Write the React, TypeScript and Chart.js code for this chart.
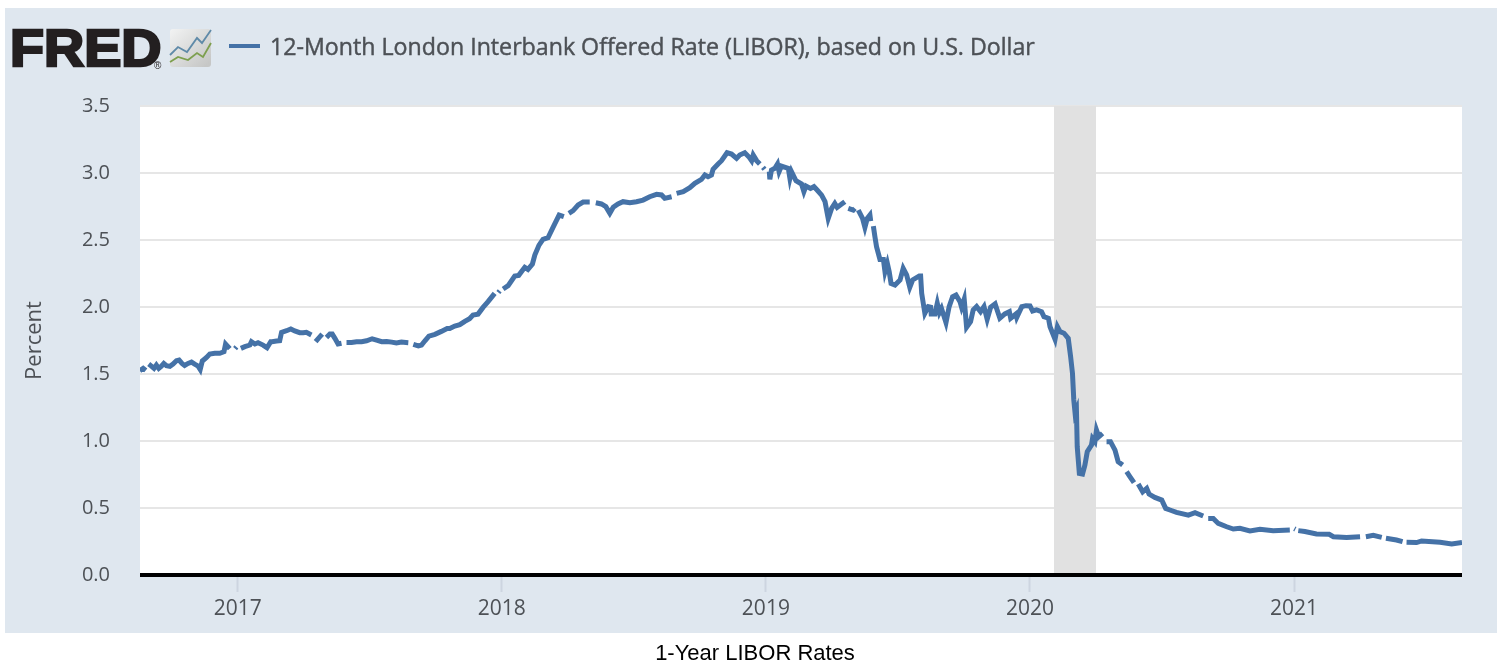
import React, { useEffect, useRef } from "react";
import { Chart, registerables } from "chart.js";

Chart.register(...registerables);

type Pt = [number, number | null];

const seriesLabel = "12-Month London Interbank Offered Rate (LIBOR), based on U.S. Dollar";
const yAxisTitle = "Percent";
const caption = "1-Year LIBOR Rates";
const yearTicks = [2017, 2018, 2019, 2020, 2021];
const xRange = [2016.63, 2021.636];
const yRange = [0, 3.5];
const recession = [2020.091, 2020.25];

const rates2016: Pt[] = [
  [2016.629,1.525],[2016.642,1.542],[2016.652,1.527],[2016.658,null],[2016.663,1.574],[2016.673,1.559],[2016.683,1.542],[2016.692,1.567],
  [2016.701,1.542],[2016.711,1.559],[2016.72,1.579],[2016.73,1.562],[2016.743,1.557],[2016.755,1.574],[2016.768,1.599],[2016.778,1.604],
  [2016.789,1.579],[2016.799,1.564],[2016.812,1.579],[2016.825,1.589],[2016.837,1.574],[2016.85,1.559],[2016.858,1.534],[2016.866,1.597],
  [2016.882,1.624],[2016.894,1.649],[2016.913,1.654],[2016.932,1.654],[2016.948,1.666],[2016.954,1.724],[2016.97,1.689],[2016.98,null],
  [2016.99,1.69],[2016.995,1.702],[2017.003,null],
];
const rates2017: Pt[] = [
  [2017.012,1.691],[2017.027,1.704],[2017.046,1.716],[2017.052,1.741],[2017.065,1.724],[2017.077,1.734],[2017.096,1.716],[2017.111,1.696],
  [2017.125,1.741],[2017.13,1.741],[2017.147,1.746],[2017.159,1.748],[2017.166,1.811],[2017.185,1.823],[2017.201,1.836],[2017.216,1.821],
  [2017.235,1.808],[2017.248,1.808],[2017.26,1.811],[2017.279,1.791],[2017.287,null],[2017.295,1.741],[2017.311,1.778],[2017.32,1.798],
  [2017.328,null],[2017.336,1.773],[2017.349,1.798],[2017.358,1.798],[2017.368,1.766],[2017.38,1.724],[2017.393,1.729],[2017.402,null],
  [2017.412,1.736],[2017.431,1.736],[2017.45,1.741],[2017.469,1.741],[2017.488,1.748],[2017.509,1.763],[2017.526,1.753],[2017.545,1.741],
  [2017.564,1.743],[2017.583,1.738],[2017.601,1.731],[2017.62,1.738],[2017.646,1.734],[2017.655,null],[2017.665,1.721],[2017.684,1.709],
  [2017.696,1.716],[2017.709,1.748],[2017.724,1.783],[2017.747,1.796],[2017.771,1.818],[2017.793,1.84],[2017.803,1.84],[2017.822,1.858],
  [2017.841,1.868],[2017.86,1.893],[2017.878,1.913],[2017.891,1.94],[2017.91,1.947],[2017.929,1.997],[2017.948,2.04],[2017.973,2.102],
  [2017.981,null],[2017.987,2.108],[2017.992,2.12],[2017.998,null],
];
const rates2018: Pt[] = [
  [2018.005,2.134],[2018.024,2.159],[2018.049,2.231],[2018.064,2.236],[2018.087,2.296],[2018.099,2.281],[2018.116,2.321],[2018.125,2.388],
  [2018.141,2.462],[2018.156,2.505],[2018.175,2.517],[2018.194,2.594],[2018.217,2.686],[2018.235,2.674],[2018.244,null],[2018.254,2.699],
  [2018.27,2.719],[2018.289,2.761],[2018.308,2.783],[2018.333,2.783],[2018.344,null],[2018.356,2.778],[2018.377,2.769],[2018.394,2.749],
  [2018.409,2.699],[2018.422,2.744],[2018.44,2.769],[2018.459,2.786],[2018.485,2.778],[2018.51,2.786],[2018.535,2.798],[2018.56,2.823],
  [2018.586,2.841],[2018.605,2.836],[2018.617,2.811],[2018.643,2.823],[2018.652,null],[2018.662,2.848],[2018.687,2.861],[2018.712,2.89],
  [2018.731,2.923],[2018.756,2.952],[2018.769,2.985],[2018.781,2.972],[2018.794,2.985],[2018.8,3.027],[2018.819,3.067],[2018.832,3.092],
  [2018.853,3.151],[2018.87,3.141],[2018.889,3.109],[2018.901,3.134],[2018.92,3.151],[2018.937,3.117],[2018.946,3.092],[2018.952,3.134],
  [2018.965,3.092],[2018.977,3.067],[2018.984,null],[2018.989,3.042],[2018.995,3.028],[2019.004,null],
];
const rates2019: Pt[] = [
  [2019.013,3.01],[2019.015,2.952],[2019.021,3.022],[2019.034,3.035],[2019.044,3.067],[2019.05,3.01],[2019.059,3.052],[2019.085,3.035],
  [2019.091,2.96],[2019.097,3.01],[2019.114,2.942],[2019.135,2.918],[2019.144,2.86],[2019.152,2.903],[2019.169,2.885],[2019.182,2.898],
  [2019.194,2.873],[2019.211,2.835],[2019.224,2.786],[2019.236,2.661],[2019.249,2.736],[2019.261,2.773],[2019.27,2.743],[2019.287,2.768],
  [2019.299,2.786],[2019.306,null],[2019.312,2.736],[2019.331,2.723],[2019.337,2.736],[2019.344,null],[2019.35,2.723],[2019.366,2.661],
  [2019.375,2.594],[2019.384,2.661],[2019.394,2.686],[2019.397,2.641],[2019.402,null],[2019.407,2.604],[2019.413,2.524],[2019.419,2.45],
  [2019.432,2.355],[2019.445,2.355],[2019.451,2.263],[2019.46,2.325],[2019.467,2.263],[2019.474,2.176],[2019.489,2.164],[2019.508,2.201],
  [2019.52,2.288],[2019.533,2.239],[2019.545,2.147],[2019.556,2.202],[2019.581,2.232],[2019.586,2.232],[2019.59,2.102],[2019.602,1.953],
  [2019.615,2.003],[2019.624,1.998],[2019.626,1.948],[2019.64,1.948],[2019.649,2.028],[2019.657,1.958],[2019.665,1.99],[2019.682,1.883],
  [2019.694,2.003],[2019.707,2.077],[2019.72,2.09],[2019.735,2.04],[2019.741,1.998],[2019.751,2.058],[2019.76,1.849],[2019.775,1.891],
  [2019.785,1.978],[2019.798,2.003],[2019.813,1.965],[2019.826,2.003],[2019.838,1.908],[2019.851,1.998],[2019.868,2.023],[2019.886,1.916],
  [2019.905,1.948],[2019.922,1.965],[2019.927,1.916],[2019.947,1.948],[2019.95,1.923],[2019.969,2.003],[2019.985,2.01],[2020.0,2.008],
];
const rates2020: Pt[] = [
  [2020.01,1.97],[2020.025,1.978],[2020.044,1.965],[2020.053,1.928],[2020.07,1.916],[2020.076,1.853],[2020.095,1.759],[2020.104,1.853],
  [2020.114,1.816],[2020.129,1.804],[2020.145,1.766],[2020.154,1.629],[2020.161,1.505],[2020.166,1.306],[2020.171,1.206],[2020.176,1.231],
  [2020.179,0.957],[2020.187,0.758],[2020.199,0.753],[2020.208,0.82],[2020.217,0.92],[2020.233,0.97],[2020.237,1.019],[2020.246,0.995],
  [2020.252,1.082],[2020.261,1.032],[2020.275,1.057],[2020.283,null],[2020.29,0.995],[2020.305,0.995],[2020.322,0.932],[2020.334,0.845],
  [2020.351,0.82],[2020.358,null],[2020.366,0.771],[2020.379,0.733],[2020.394,0.689],[2020.402,null],[2020.41,0.679],[2020.427,0.621],
  [2020.442,0.646],[2020.451,0.604],[2020.473,0.579],[2020.499,0.559],[2020.514,0.497],[2020.53,0.485],[2020.555,0.467],[2020.6,0.447],
  [2020.625,0.465],[2020.656,0.44],[2020.665,null],[2020.675,0.422],[2020.694,0.422],[2020.713,0.385],[2020.745,0.36],[2020.77,0.343],
  [2020.795,0.348],[2020.833,0.329],[2020.871,0.341],[2020.921,0.331],[2020.984,0.336],[2020.993,null],
];
const rates2021: Pt[] = [
  [2021.001,0.346],[2021.005,0.342],[2021.01,null],[2021.016,0.331],[2021.041,0.324],[2021.085,0.306],[2021.133,0.304],[2021.149,0.286],
  [2021.199,0.279],[2021.25,0.286],[2021.261,null],[2021.272,0.286],[2021.3,0.296],[2021.332,0.281],[2021.34,null],[2021.348,0.274],
  [2021.388,0.261],[2021.411,0.249],[2021.418,null],[2021.426,0.244],[2021.464,0.242],[2021.483,0.254],[2021.553,0.244],[2021.597,0.232],
  [2021.636,0.242],
];

const PANEL = "#dfe7ef";
const LINE = "#4572a7";
const INK = "#4d5156";
const FONT = '"Open Sans", sans-serif';

const backdrop = {
  id: "backdrop",
  beforeDraw(chart: any) {
    const { ctx, chartArea: a } = chart;
    ctx.save();
    ctx.fillStyle = PANEL;
    ctx.fillRect(5, 8, 1492, 625);
    ctx.fillStyle = "#ffffff";
    ctx.fillRect(a.left, a.top, a.right - a.left, a.bottom - a.top);
    ctx.restore();
  },
  beforeDatasetsDraw(chart: any) {
    const { ctx, chartArea: a, scales } = chart;
    const x0 = scales.x.getPixelForValue(recession[0]);
    const x1 = scales.x.getPixelForValue(recession[1]);
    ctx.save();
    ctx.fillStyle = "#e1e1e1";
    ctx.fillRect(x0, a.top, x1 - x0, a.bottom - a.top);
    ctx.restore();
  },
  afterDraw(chart: any) {
    const { ctx, chartArea: a } = chart;
    ctx.save();
    // zero line, square with the plot's edges
    ctx.fillStyle = "#000000";
    ctx.fillRect(a.left, a.bottom - 2, a.right - a.left, 4);
    // FRED wordmark
    ctx.fillStyle = "#231f20";
    ctx.strokeStyle = "#231f20";
    ctx.lineWidth = 2.5;
    ctx.textBaseline = "alphabetic";
    ctx.textAlign = "left";
    ctx.font = 'bold 52px "Liberation Sans", Arial, sans-serif';
    ctx.save();
    ctx.translate(10, 66);
    ctx.scale(1.07, 1);
    ctx.strokeText("FRED", 0, 0);
    ctx.fillText("FRED", 0, 0);
    ctx.restore();
    ctx.font = '10px "Liberation Sans", Arial, sans-serif';
    ctx.fillText("®", 154, 69);
    // logo tile
    const g = ctx.createLinearGradient(170, 29, 205, 67);
    g.addColorStop(0, "#f2f3f3");
    g.addColorStop(1, "#c6c7c6");
    ctx.fillStyle = g;
    ctx.beginPath();
    ctx.roundRect(170, 29, 41, 38, 3);
    ctx.fill();
    ctx.lineWidth = 1.8;
    ctx.lineJoin = "miter";
    ctx.strokeStyle = "#5f8aa8";
    ctx.beginPath();
    [[170, 55], [178, 47], [187, 52], [197, 38], [202, 43], [211, 30]].forEach(([x, y], i) =>
      i ? ctx.lineTo(x, y) : ctx.moveTo(x, y));
    ctx.stroke();
    ctx.strokeStyle = "#7d9f4e";
    ctx.beginPath();
    [[170, 62], [178, 57], [188, 60], [197, 53], [203, 57], [211, 43]].forEach(([x, y], i) =>
      i ? ctx.lineTo(x, y) : ctx.moveTo(x, y));
    ctx.stroke();
    // series key
    ctx.strokeStyle = LINE;
    ctx.lineWidth = 4;
    ctx.beginPath();
    ctx.moveTo(229, 46);
    ctx.lineTo(260, 46);
    ctx.stroke();
    ctx.fillStyle = INK;
    ctx.strokeStyle = INK;
    ctx.lineWidth = 0.45;
    ctx.font = `400 23.2px ${FONT}`;
    ctx.fillText(chart.data.datasets[0].label, 270, 55);
    ctx.strokeText(chart.data.datasets[0].label, 270, 55);
    ctx.restore();
  },
};

export default function App() {
  const ref = useRef<HTMLCanvasElement>(null);
  useEffect(() => {
    const points = [...rates2016, ...rates2017, ...rates2018, ...rates2019, ...rates2020, ...rates2021].map(
      ([x, y]) => ({ x, y })
    );
    const chart = new Chart(ref.current as HTMLCanvasElement, {
      type: "line",
      data: {
        datasets: [
          {
            label: seriesLabel,
            data: points as any,
            borderColor: LINE,
            borderWidth: 5,
            pointRadius: 0,
            tension: 0,
            spanGaps: false,
            borderJoinStyle: "miter",
            borderCapStyle: "butt",
          },
        ],
      },
      options: {
        responsive: false,
        animation: false,
        layout: { padding: { top: 106, right: 35, left: 0, bottom: 0 } },
        plugins: { legend: { display: false }, tooltip: { enabled: false }, title: { display: false } },
        scales: {
          x: {
            type: "linear",
            min: xRange[0],
            max: xRange[1],
            afterFit: (s: any) => { s.height = 89; },
            afterBuildTicks: (s: any) => { s.ticks = yearTicks.map((value) => ({ value })); },
            grid: { drawOnChartArea: false, drawTicks: true, tickLength: 17, tickColor: "#cdd5e0", tickWidth: 2 },
            border: { display: false },
            ticks: {
              autoSkip: false,
              maxRotation: 0,
              padding: 4,
              color: INK,
              font: { family: FONT, size: 21 },
              callback: (v: any) => String(v),
            },
          },
          y: {
            min: yRange[0],
            max: yRange[1],
            afterFit: (s: any) => { s.width = 140; },
            grid: { color: "#e6e6e6", lineWidth: 2, drawTicks: false },
            border: { display: false },
            ticks: {
              stepSize: 0.5,
              padding: 30,
              color: INK,
              font: { family: FONT, size: 20 },
              callback: (v: any) => Number(v).toFixed(1),
            },
            title: {
              display: true,
              text: yAxisTitle,
              color: INK,
              font: { family: FONT, size: 22 },
              padding: { top: 22, bottom: 0 },
            },
          },
        },
      },
      plugins: [backdrop],
    } as any);
    return () => chart.destroy();
  }, []);

  return (
    <div style={{ position: "absolute", left: 0, top: 0, width: 1497, height: 664, background: "#fff", overflow: "hidden" }}>
      <canvas ref={ref} width={1497} height={664} style={{ display: "block" }} />
      <div
        style={{
          position: "absolute",
          left: 605,
          width: 300,
          top: 641,
          textAlign: "center",
          whiteSpace: "nowrap",
          font: '22px "Liberation Sans", Arial, sans-serif',
          lineHeight: "24px",
          color: "#000",
        }}
      >
        {caption}
      </div>
    </div>
  );
}
